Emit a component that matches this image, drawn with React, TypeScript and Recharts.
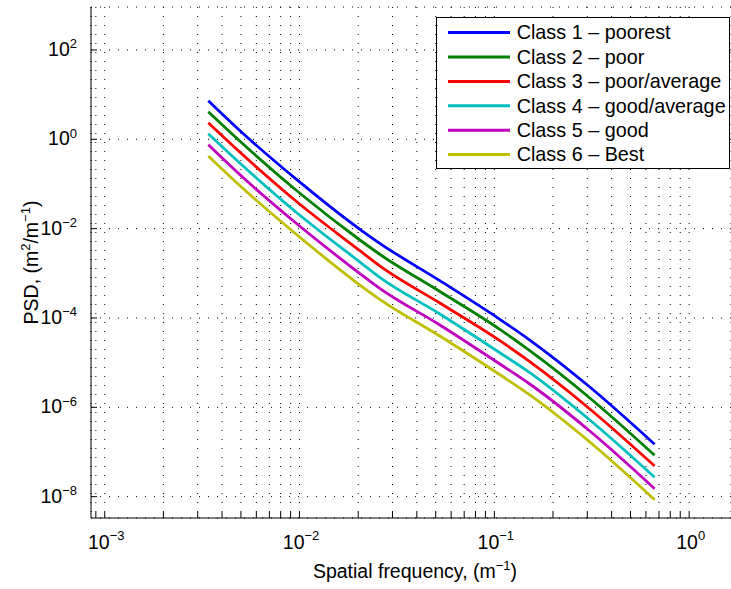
import React from 'react'
import { LineChart, Line, XAxis, YAxis, CartesianGrid, Legend } from 'recharts'

// spatial frequency samples (1/m)
const FREQ = [0.0034, 0.0049, 0.01, 0.0204, 0.0258, 0.0525, 0.1067, 0.152, 0.309, 0.665]

// PSD values (m^2/m^-1) per road class
const CLASS_1 = [7.31, 1.62, 0.111, 0.00966, 0.0047, 6.84e-4, 9.34e-5, 3.21e-5, 2.85e-6, 1.49e-7]
const CLASS_2 = [4.15, 0.94, 0.0628, 0.00557, 0.00267, 3.92e-4, 5.58e-5, 1.85e-5, 1.62e-6, 8.43e-8]
const CLASS_3 = [2.35, 0.533, 0.0356, 0.00321, 0.00146, 2.16e-4, 3.1e-5, 1.05e-5, 9.17e-7, 4.85e-8]
const CLASS_4 = [1.33, 0.303, 0.0202, 0.00179, 8.14e-4, 1.23e-4, 1.67e-5, 5.96e-6, 5.2e-7, 2.71e-8]
const CLASS_5 = [0.757, 0.167, 0.01146, 9.9e-4, 4.61e-4, 6.97e-5, 9.33e-6, 3.33e-6, 2.95e-7, 1.51e-8]
const CLASS_6 = [0.423, 0.0948, 0.0065, 5.47e-4, 2.62e-4, 3.95e-5, 5.37e-6, 1.89e-6, 1.67e-7, 8.55e-9]

const CLASS_NAMES = [
  'Class 1 – poorest',
  'Class 2 – poor',
  'Class 3 – poor/average',
  'Class 4 – good/average',
  'Class 5 – good',
  'Class 6 – Best',
]
const CLASS_COLORS = ['#0000ff', '#008000', '#ff0000', '#00bfbf', '#bf00bf', '#bfbf00']
const SERIES = [CLASS_1, CLASS_2, CLASS_3, CLASS_4, CLASS_5, CLASS_6]

// axis ticks
const X_DECADES = [0.001, 0.01, 0.1, 1]
const X_MINOR_MULT = [2, 3, 4, 5, 6, 7, 8, 9]
const X_TICKS = [0.0009, ...X_DECADES.slice(0, 3).flatMap((d) => [d, ...X_MINOR_MULT.map((m) => d * m)]), 1]
const Y_TICKS = [1e-8, 1e-6, 1e-4, 1e-2, 1, 100]

const X_DOMAIN = [8.5e-4, 1.64]
const Y_DOMAIN = [3.33e-9, 916]

const FONT = '"Liberation Sans", Arial, Helvetica, sans-serif'

const data = FREQ.map((f, i) => {
  const row: Record<string, number> = { f }
  SERIES.forEach((s, k) => {
    row[`c${k + 1}`] = s[i]
  })
  return row
})

const expLabel = (v: number) => {
  const e = Math.round(Math.log10(v))
  return e < 0 ? `−${-e}` : `${e}`
}

const isDecade = (v: number) => Math.abs(Math.log10(v) - Math.round(Math.log10(v))) < 1e-9

function BottomTick({ x, y, payload }: any) {
  const v = payload.value
  return (
    <g>
      <line x1={x} x2={x} y1={y} y2={y - 6} stroke="#000" />
      {isDecade(v) && (
        <text x={x + 1.5} y={y + 31} textAnchor="middle" fontSize={19.5} fontFamily={FONT} fill="#000">
          10
          <tspan dy={-9} fontSize={13}>
            {expLabel(v)}
          </tspan>
        </text>
      )}
    </g>
  )
}

function TopTick({ x, y }: any) {
  return <line x1={x} x2={x} y1={y} y2={y + 6} stroke="#000" />
}

function LeftTick({ x, y, payload }: any) {
  return (
    <g>
      <line x1={x} x2={x + 6} y1={y} y2={y} stroke="#000" />
      <text x={x - 14} y={y + 6} textAnchor="end" fontSize={19.5} fontFamily={FONT} fill="#000">
        10
        <tspan dy={-7.5} fontSize={13}>
          {expLabel(payload.value)}
        </tspan>
      </text>
    </g>
  )
}

function XTitle({ viewBox }: any) {
  const cx = viewBox.x + viewBox.width / 2 + 4
  return (
    <text x={cx} y={viewBox.y + 60} textAnchor="middle" fontSize={19.5} fontFamily={FONT} fill="#000">
      Spatial frequency, (m
      <tspan dy={-8} fontSize={13}>
        −1
      </tspan>
      <tspan dy={8}>)</tspan>
    </text>
  )
}

function YTitle({ viewBox }: any) {
  const cy = viewBox.y + viewBox.height / 2
  const bx = 38
  return (
    <text
      x={bx}
      y={cy}
      transform={`rotate(-90, ${bx}, ${cy})`}
      textAnchor="middle"
      fontSize={19.5}
      fontFamily={FONT}
      fill="#000"
    >
      PSD, (m
      <tspan dy={-8} fontSize={13}>
        2
      </tspan>
      <tspan dy={8}>/m</tspan>
      <tspan dy={-8} fontSize={13}>
        −1
      </tspan>
      <tspan dy={8}>)</tspan>
    </text>
  )
}

function LegendBox({ payload }: any) {
  const items = payload || []
  return (
    <svg width={295} height={153} style={{ display: 'block' }}>
      <rect x={0.5} y={0.5} width={293} height={151} fill="#fff" stroke="#000" />
      {items.map((p: any, i: number) => {
        const cy = 15.6 + i * 24.4
        return (
          <g key={p.value}>
            <line x1={12} x2={74} y1={cy} y2={cy} stroke={p.color} strokeWidth={3} />
            <text x={80.7} y={cy + 6.7} fontSize={19.8} fontFamily={FONT} fill="#000">
              {p.value}
            </text>
          </g>
        )
      })}
    </svg>
  )
}

export default function App() {
  return (
    <div style={{ position: 'absolute', left: 0, top: 0, width: 731, height: 589, background: '#fff' }}>
      <LineChart width={731} height={589} data={data} margin={{ top: 7, right: 0, bottom: 0, left: 0 }}>
        <CartesianGrid stroke="#000" strokeDasharray="1 8" strokeWidth={1} />
        <XAxis
          dataKey="f"
          type="number"
          scale="log"
          domain={X_DOMAIN}
          allowDataOverflow
          ticks={X_TICKS}
          interval={0}
          height={71}
          tickSize={0}
          tickMargin={0}
          tick={<BottomTick />}
          axisLine={{ stroke: '#000' }}
          label={{ content: (props: any) => <XTitle {...props} /> }}
        />
        <XAxis
          xAxisId="top"
          orientation="top"
          dataKey="f"
          type="number"
          scale="log"
          domain={X_DOMAIN}
          allowDataOverflow
          ticks={X_TICKS}
          interval={0}
          height={0}
          tickSize={0}
          tickMargin={0}
          tick={<TopTick />}
          axisLine={{ stroke: '#000' }}
        />
        <YAxis
          type="number"
          scale="log"
          domain={Y_DOMAIN}
          allowDataOverflow
          ticks={Y_TICKS}
          interval={0}
          width={91}
          tickSize={0}
          tickMargin={0}
          tick={<LeftTick />}
          axisLine={{ stroke: '#000' }}
          label={{ content: (props: any) => <YTitle {...props} /> }}
        />
        <Legend
          layout="vertical"
          align="center"
          verticalAlign="middle"
          content={<LegendBox />}
          wrapperStyle={{ position: 'absolute', left: 436, top: 17, width: 295, height: 153 }}
        />
        {SERIES.map((_, k) => (
          <Line
            key={k}
            type="monotone"
            dataKey={`c${k + 1}`}
            name={CLASS_NAMES[k]}
            stroke={CLASS_COLORS[k]}
            strokeWidth={2.8}
            dot={false}
            isAnimationActive={false}
          />
        ))}
      </LineChart>
    </div>
  )
}
